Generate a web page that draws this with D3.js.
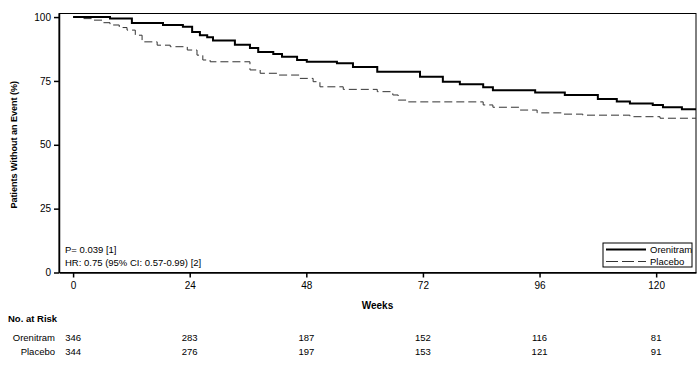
<!DOCTYPE html>
<html>
<head>
<meta charset="utf-8">
<script src="https://cdn.jsdelivr.net/npm/d3@7"></script>
<style>
  body { margin: 0; background: #fff; }
  text { font-family: "Liberation Sans", Arial, sans-serif; fill: #000; }
</style>
</head>
<body>
<div class="chart"></div>
<script>
// Kaplan-Meier data (weeks, % without event)
var orenWeeks = [0, 7.6, 12.1, 18.5, 22.6, 24.5, 26.1, 27.6, 28.8, 33.3, 36.4, 38.1, 41.2, 43.0, 46.1, 48.1, 54.3, 57.6, 62.6, 71.4, 76.1, 79.6, 84.4, 86.4, 95.1, 101.2, 108.0, 111.9, 114.6, 119.3, 121.4, 125.3, 128.2];
var orenSurv  = [100, 99.4, 97.7, 96.9, 96.2, 94.2, 92.9, 92.1, 90.8, 89.2, 87.9, 86.3, 85.5, 84.5, 83.2, 82.5, 81.9, 80.5, 78.6, 76.6, 74.7, 73.7, 72.5, 71.4, 70.5, 69.5, 67.9, 66.9, 66.2, 65.6, 64.7, 63.9, 63.9];

var placWeeks = [0, 2.0, 4.1, 6.0, 7.6, 9.5, 11.1, 12.8, 14.2, 17.3, 20.0, 23.5, 25.5, 26.7, 28.2, 36.4, 38.5, 42.0, 46.7, 49.4, 50.8, 55.6, 62.6, 65.8, 66.9, 68.7, 84.4, 86.4, 92.0, 95.5, 100.8, 104.9, 114.6, 120.8, 128.2];
var placSurv  = [100, 99.4, 98.8, 97.8, 96.9, 95.9, 94.9, 92.9, 90.3, 89.0, 88.4, 87.1, 85.1, 83.2, 82.5, 79.3, 78.0, 77.3, 76.0, 74.7, 72.7, 71.7, 70.8, 69.5, 67.5, 66.8, 65.6, 64.7, 63.6, 62.5, 62.0, 61.6, 61.0, 60.4, 60.4];

var xTicks = [0, 24, 48, 72, 96, 120];
var yTicks = [0, 25, 50, 75, 100];

var riskWeeks = [0, 24, 48, 72, 96, 120];
var riskOren = [346, 283, 187, 152, 116, 81];
var riskPlac = [344, 276, 197, 153, 121, 91];

var svgWidth = 698;
var svgHeight = 368;

var margin = { top: 13.5, right: 2, bottom: 95.5, left: 59 };
var width = svgWidth - margin.left - margin.right;
var height = svgHeight - margin.top - margin.bottom;

var svg = d3.select(".chart")
  .append("svg")
  .attr("width", svgWidth)
  .attr("height", svgHeight);

var chartGroup = svg.append("g")
  .attr("transform", `translate(${margin.left}, ${margin.top})`);

var xScale = d3.scaleLinear().domain([-2.9, 128.2]).range([0, width]);
var yScale = d3.scaleLinear().domain([0, 101.4]).range([height, 0]);

// frame
chartGroup.append("rect")
  .attr("x", 0).attr("y", 0)
  .attr("width", width).attr("height", height)
  .attr("fill", "none")
  .attr("stroke", "#000")
  .attr("stroke-width", 1);

// axes
var leftAxis = d3.axisLeft(yScale).tickValues(yTicks).tickSize(5).tickSizeOuter(0).tickPadding(3);
var bottomAxis = d3.axisBottom(xScale).tickValues(xTicks).tickSize(5).tickSizeOuter(0).tickPadding(4);

var yAxis = chartGroup.append("g").call(leftAxis);
var xAxis = chartGroup.append("g")
  .attr("transform", `translate(0, ${height})`)
  .call(bottomAxis);

[xAxis, yAxis].forEach(function(ax) {
  ax.select(".domain").attr("stroke-width", 1.5);
  ax.selectAll(".tick line").attr("stroke-width", 1.5);
  ax.selectAll("text")
    .style("font-family", "'Liberation Sans', Arial, sans-serif")
    .style("font-size", "10px");
});

// curves
var line = d3.line()
  .x(d => xScale(d[0]))
  .y(d => yScale(d[1]))
  .curve(d3.curveStepAfter);

chartGroup.append("path")
  .datum(placWeeks.map((w, i) => [w, placSurv[i]]))
  .attr("d", line)
  .attr("fill", "none")
  .attr("stroke", "#333")
  .attr("stroke-width", 1)
  .attr("stroke-dasharray", "8,4");

chartGroup.append("path")
  .datum(orenWeeks.map((w, i) => [w, orenSurv[i]]))
  .attr("d", line)
  .attr("fill", "none")
  .attr("stroke", "#000")
  .attr("stroke-width", 2);

// axis titles
svg.append("text")
  .attr("transform", `translate(17, ${margin.top + yScale(50)}) rotate(-90)`)
  .attr("text-anchor", "middle")
  .style("font-size", "9px")
  .style("font-weight", "bold")
  .text("Patients Without an Event (%)");

svg.append("text")
  .attr("x", margin.left + width / 2)
  .attr("y", 309)
  .attr("text-anchor", "middle")
  .style("font-size", "10px")
  .style("font-weight", "bold")
  .text("Weeks");

// stats annotation
chartGroup.append("text")
  .attr("x", 6).attr("y", 239.5)
  .style("font-size", "9.5px")
  .text("P= 0.039 [1]");
chartGroup.append("text")
  .attr("x", 6).attr("y", 252.5)
  .style("font-size", "9.5px")
  .text("HR: 0.75 (95% CI: 0.57-0.99) [2]");

// legend
var legend = svg.append("g").attr("transform", "translate(603, 243)");
legend.append("rect")
  .attr("width", 89).attr("height", 24)
  .attr("fill", "#fff").attr("stroke", "#000").attr("stroke-width", 1);
legend.append("line")
  .attr("x1", 3).attr("x2", 43).attr("y1", 6.5).attr("y2", 6.5)
  .attr("stroke", "#000").attr("stroke-width", 2);
legend.append("line")
  .attr("x1", 3).attr("x2", 43).attr("y1", 18.5).attr("y2", 18.5)
  .attr("stroke", "#333").attr("stroke-width", 1).attr("stroke-dasharray", "12,4");
legend.append("text").attr("x", 47).attr("y", 10).style("font-size", "9.5px").text("Orenitram");
legend.append("text").attr("x", 47).attr("y", 22).style("font-size", "9.5px").text("Placebo");

// number at risk table
svg.append("text")
  .attr("x", 8).attr("y", 322)
  .style("font-size", "9.5px")
  .style("font-weight", "bold")
  .text("No. at Risk");

svg.append("text").attr("x", 55).attr("y", 341).attr("text-anchor", "end")
  .style("font-size", "9.5px").text("Orenitram");
svg.append("text").attr("x", 55).attr("y", 355).attr("text-anchor", "end")
  .style("font-size", "9.5px").text("Placebo");

chartGroup.selectAll(".riskOren")
  .data(riskWeeks)
  .enter()
  .append("text")
  .attr("class", "riskOren")
  .attr("x", d => xScale(d))
  .attr("y", 341 - margin.top)
  .attr("text-anchor", "middle")
  .style("font-size", "9.5px")
  .text((d, i) => riskOren[i]);

chartGroup.selectAll(".riskPlac")
  .data(riskWeeks)
  .enter()
  .append("text")
  .attr("class", "riskPlac")
  .attr("x", d => xScale(d))
  .attr("y", 355 - margin.top)
  .attr("text-anchor", "middle")
  .style("font-size", "9.5px")
  .text((d, i) => riskPlac[i]);
</script>
</body>
</html>
